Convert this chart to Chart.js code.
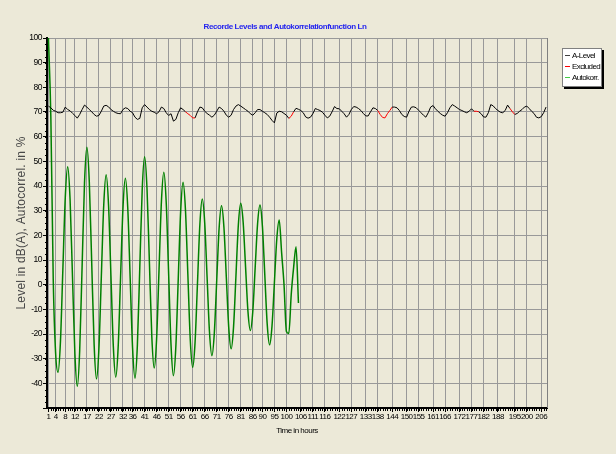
<!DOCTYPE html>
<html>
<head>
<meta charset="utf-8">
<script src="https://cdn.jsdelivr.net/npm/chart.js@4.4.1/dist/chart.umd.min.js"></script>
<style>
  html, body { margin: 0; padding: 0; background: #ECE9D8; }
  #wrap { position: relative; width: 616px; height: 454px; }
  #legend {
    position: absolute; left: 562px; top: 48px; width: 38px; height: 36px;
    background: #fff; border: 1px solid #808080; box-shadow: 2px 2px 0 #000;
    padding-top: 1px;
    font: 8px 'Liberation Sans', sans-serif;
    color: #000;
  }
  #legend div { height: 11px; line-height: 11px; white-space: nowrap; letter-spacing: -0.6px; }
  #legend i { display: inline-block; width: 5px; height: 1px; vertical-align: middle; margin: 0 2px 0 2px; }
</style>
</head>
<body>
<div id="wrap">
  <canvas id="myChart" width="616" height="454"></canvas>
  <div id="legend"></div>
</div>
<script>
const TITLE = 'Recorde Levels and Autokorrelationfunction Ln';
const Y_TITLE = 'Level in dB(A), Autocorrel. in %';

// tick labels of the time axis (hours)
const xTickHours = [1, 4, 8, 12, 17, 22, 27, 32, 36, 41, 46, 51, 56, 61, 66, 71, 76, 81, 86, 90,
    95, 100, 106, 111, 116, 122, 127, 133, 138, 144, 150, 155, 161, 166, 172, 177, 182, 188, 195, 200, 206];

// A-Level in dB(A), one value per hour starting at hour 1
const levelValues = [
    72.4, 71.7, 70.7, 70.3, 69.7, 69.7, 69.9, 72.0, 71.0, 70.5,
    69.5, 68.6, 67.5, 69.0, 71.0, 72.8, 72.0, 71.0, 70.1, 69.0,
    68.3, 68.6, 70.3, 72.4, 72.7, 72.1, 71.0, 70.3, 69.7, 69.4,
    69.3, 71.0, 71.7, 71.4, 70.3, 69.7, 67.9, 67.0, 67.4, 71.7,
    73.0, 72.0, 71.0, 70.3, 69.9, 69.3, 70.1, 72.0, 71.4, 69.7,
    68.6, 69.3, 66.3, 67.0, 69.7, 71.7, 71.0, 70.1, 69.3, 68.6,
    67.6, 67.6, 70.1, 72.0, 71.7, 70.3, 69.4, 68.7, 67.9, 68.7,
    70.3, 72.0, 71.4, 70.3, 68.7, 67.9, 68.7, 71.0, 72.4, 73.0,
    72.4, 71.7, 71.0, 70.3, 69.3, 68.7, 69.7, 71.0, 71.0, 70.3,
    69.7, 69.0, 67.9, 66.6, 65.6, 69.6, 70.3, 70.1, 69.4, 68.7,
    67.4, 68.3, 70.1, 71.5, 71.1, 70.6, 69.7, 68.0, 67.5, 67.9,
    69.3, 71.4, 71.0, 70.6, 69.9, 68.7, 67.6, 68.3, 70.1, 72.2,
    71.4, 71.3, 70.3, 69.3, 67.9, 69.0, 71.0, 72.2, 72.0, 71.4,
    70.6, 69.4, 68.4, 68.4, 70.1, 71.7, 71.4, 70.6, 69.0, 67.8,
    67.6, 69.3, 70.6, 72.0, 72.0, 71.7, 70.6, 69.0, 68.2, 67.9,
    70.3, 72.0, 72.1, 71.7, 70.7, 69.7, 68.7, 67.9, 69.7, 72.0,
    72.6, 71.3, 70.3, 69.4, 68.7, 68.3, 69.7, 71.7, 73.0, 72.4,
    71.7, 71.0, 70.6, 70.1, 69.7, 70.3, 71.3, 70.3, 70.3, 70.1,
    69.3, 68.0, 67.9, 69.7, 73.0, 72.5, 71.4, 70.6, 69.9, 69.7,
    70.6, 72.8, 71.4, 70.1, 69.0, 69.4, 70.3, 71.0, 72.0, 72.4,
    71.4, 70.3, 69.4, 67.9, 67.6, 68.1, 69.7, 72.0
];

// excluded periods [from hour, to hour]
const excludedHours = [[58, 62], [101, 103], [138, 144], [178, 180], [193, 195]];

// autocorrelation in %, one value per hour of lag starting at 1
const autoCorrValues = [
    100, 68, 2, -28, -35.5, -23.0, 6.2, 35.3, 47.8, 34.5,
    3.3, -27.9, -41.2, -26.7, 7.3, 41.2, 55.7, 41.6, 8.8, -24.1,
    -38.2, -25.8, 3.2, 32.2, 44.6, 32.3, 3.6, -25.2, -37.5, -25.4,
    2.8, 31.0, 43.1, 31.0, 2.6, -25.7, -37.9, -24.4, 7.0, 38.4,
    51.9, 39.0, 9.1, -21.0, -33.8, -21.9, 5.9, 33.7, 45.6, 33.2,
    4.4, -24.5, -36.9, -25.1, 2.3, 29.7, 41.5, 30.3, 4.0, -22.3,
    -33.5, -23.3, 0.6, 24.5, 34.7, 25.2, 3.0, -19.3, -28.8, -19.7,
    1.6, 22.9, 32.0, 23.3, 3.0, -17.3, -26.0, -17.2, 3.5, 24.2,
    33.0, 25.3, 7.2, -10.9, -18.6, -11.0, 6.9, 24.7, 32.3, 23.8,
    4.0, -15.9, -24.4, -16.8, 0.9, 18.6, 26.2, 13.0, 0.0, -19.0,
    -19.8, -4.0, 7.0, 15.4, -7.4
];

const legendItems = [
    ['A-Level', '#404040'],
    ['Excluded', '#ff0000'],
    ['Autokorr.', '#44cc44']
];

const FONT = "'Liberation Sans', Arial, sans-serif";

function isExcluded(h0, h1) {
    return excludedHours.some(r => h0 >= r[0] && h1 <= r[1]);
}

const extras = {
    id: 'extras',
    beforeDraw(chart) {
        // squeeze the small text like the original
        chart.ctx.letterSpacing = '-0.5px';
    },
    afterDraw(chart) {
        const {ctx, chartArea: a, scales: {x, y}} = chart;
        ctx.save();
        ctx.strokeStyle = '#000';
        ctx.lineWidth = 1;
        ctx.beginPath();
        for (let h = 1; h <= 208; h++) {
            const px = Math.round(x.getPixelForValue(h)) + 0.5;
            ctx.moveTo(px, a.bottom);
            ctx.lineTo(px, a.bottom + 3);
        }
        for (let v = -50; v <= 100; v += 2.5) {
            const py = Math.round(y.getPixelForValue(v)) + 0.5;
            ctx.moveTo(a.left - 2, py);
            ctx.lineTo(a.left, py);
        }
        ctx.stroke();
        ctx.strokeStyle = '#808080';
        ctx.beginPath();
        ctx.moveTo(a.right + 0.5, a.top);
        ctx.lineTo(a.right + 0.5, a.bottom);
        ctx.stroke();

        ctx.textAlign = 'center';
        ctx.textBaseline = 'middle';
        // chart title
        ctx.fillStyle = '#2424ee';
        ctx.font = 'bold 8px ' + FONT;
        ctx.letterSpacing = '-0.4px';
        ctx.fillText(TITLE, 285, 27);
        // y axis title
        ctx.letterSpacing = '0.2px';
        ctx.fillStyle = '#484848';
        ctx.font = '12px ' + FONT;
        ctx.translate(22, (a.top + a.bottom) / 2);
        ctx.rotate(-Math.PI / 2);
        ctx.fillText(Y_TITLE, 0, 0);
        ctx.restore();
    }
};

const ctx = document.getElementById('myChart').getContext('2d');

const myChart = new Chart(ctx, {
    type: 'line',
    data: {
        datasets: [{
            label: 'A-Level',
            data: levelValues.map((v, i) => ({x: i + 1, y: v})),
            borderColor: '#000',
            borderWidth: 1,
            segment: {
                borderColor: c => isExcluded(c.p0.parsed.x, c.p1.parsed.x) ? '#ff0000' : '#000'
            },
            order: 1
        }, {
            label: 'Autokorr.',
            data: autoCorrValues.map((v, i) => ({x: i + 1, y: v})),
            borderColor: '#008000',
            borderWidth: 1.5,
            cubicInterpolationMode: 'monotone',
            order: 2
        }]
    },
    options: {
        responsive: false,
        animation: false,
        layout: { padding: { top: 38, right: 69, left: 0, bottom: 0 } },
        elements: { point: { radius: 0 } },
        plugins: {
            legend: { display: false },
            title: { display: false },
            tooltip: { enabled: false }
        },
        scales: {
            x: {
                type: 'linear',
                min: 0.4,
                max: 208.4,
                afterBuildTicks: s => { s.ticks = xTickHours.map(v => ({value: v})); },
                afterFit: s => { s.height = 46; },
                ticks: {
                    autoSkip: false, maxRotation: 0, padding: 0,
                    color: '#000', font: { family: FONT, size: 8 },
                    callback: v => v
                },
                grid: { color: '#999999', tickColor: '#000', tickLength: 4 },
                border: { color: '#000', width: 2 },
                title: {
                    display: true, text: 'Time in hours', color: '#000',
                    font: { family: FONT, size: 8 },
                    padding: { top: 0, bottom: 18 }
                }
            },
            y: {
                min: -50,
                max: 100,
                afterFit: s => { s.width = 47; },
                ticks: {
                    stepSize: 10, padding: 1,
                    color: '#000', font: { family: FONT, size: 8.5 },
                    callback: v => v === -50 ? '' : v
                },
                grid: { color: '#999999', tickColor: '#000', tickLength: 4 },
                border: { color: '#000', width: 2 }
            }
        }
    },
    plugins: [extras]
});

document.getElementById('legend').innerHTML = legendItems
    .map(it => '<div><i style="background:' + it[1] + '"></i>' + it[0] + '</div>')
    .join('');
</script>
</body>
</html>
